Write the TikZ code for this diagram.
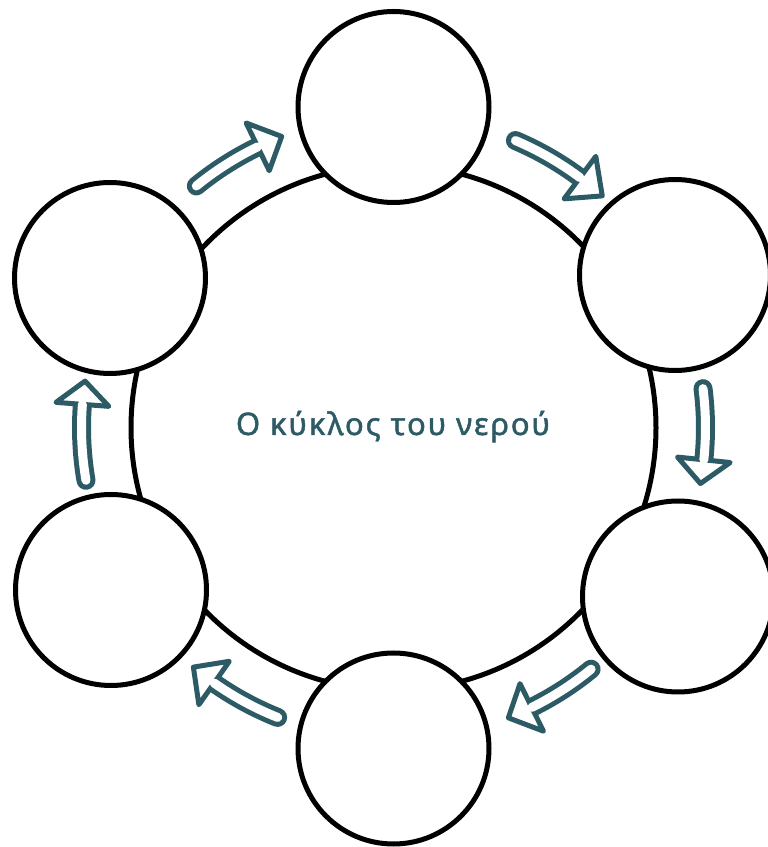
\documentclass[tikz,border=0pt]{standalone}
\usepackage{fontspec}
\newfontfamily\greekfont[LetterSpace=6,FakeBold=1.5]{Noto Sans}
\definecolor{cyc}{RGB}{45,91,101}
\tikzset{
  ring/.style={circle, draw=black, line width=5pt, minimum size=525pt, inner sep=0pt},
  stage/.style={circle, draw=black, line width=5pt, fill=white, minimum size=191pt, inner sep=0pt},
  shaftout/.style={draw=cyc, line width=19pt, line cap=round},
  shaftin/.style={draw=white, line width=9pt, line cap=round},
  headtri/.style={draw=cyc, fill=white, line width=5pt, line join=round},
}
\newcommand\cycarrow[3]{%
  \draw[shaftout] ([shift={(#1:312)}]C) arc[start angle=#1, end angle=#2, radius=312];
  \draw[headtri] ([shift={(#2:338.5)}]C) -- ([shift={(#3:312)}]C) -- ([shift={(#2:285.5)}]C) -- cycle;
  \draw[shaftin] ([shift={(#1:312)}]C) arc[start angle=#1, end angle=#2, radius=312];
}
\begin{document}
\begin{tikzpicture}[x=1pt,y=1pt]
\useasboundingbox (0,0) rectangle (768,847);
\fill[white] (0,0) rectangle (768,847);
\coordinate (C) at (393.5,419.25);
\node[ring] (cycle) at (C) {};
\node[stage] (top) at (393.5,740) {};
\node[stage] (ur) at (675,572) {};
\node[stage] (lr) at (678,250.5) {};
\node[stage] (bot) at (393.5,98.5) {};
\node[stage] (ll) at (111,257) {};
\node[stage] (ul) at (110,569) {};
\cycarrow{129.2}{115.8}{111}
\cycarrow{67.0}{53.3}{48}
\cycarrow{7.2}{-5.9}{-10.3}
\cycarrow{-50.7}{-63.7}{-68.4}
\cycarrow{248.2}{234.9}{230.1}
\cycarrow{189.7}{175.7}{171.4}
\node[text=cyc, font=\greekfont\fontsize{31}{35}\selectfont, anchor=base, inner sep=0pt] (title) at (393,412) {Ο κύκλος του νερού};
\end{tikzpicture}
\end{document}
